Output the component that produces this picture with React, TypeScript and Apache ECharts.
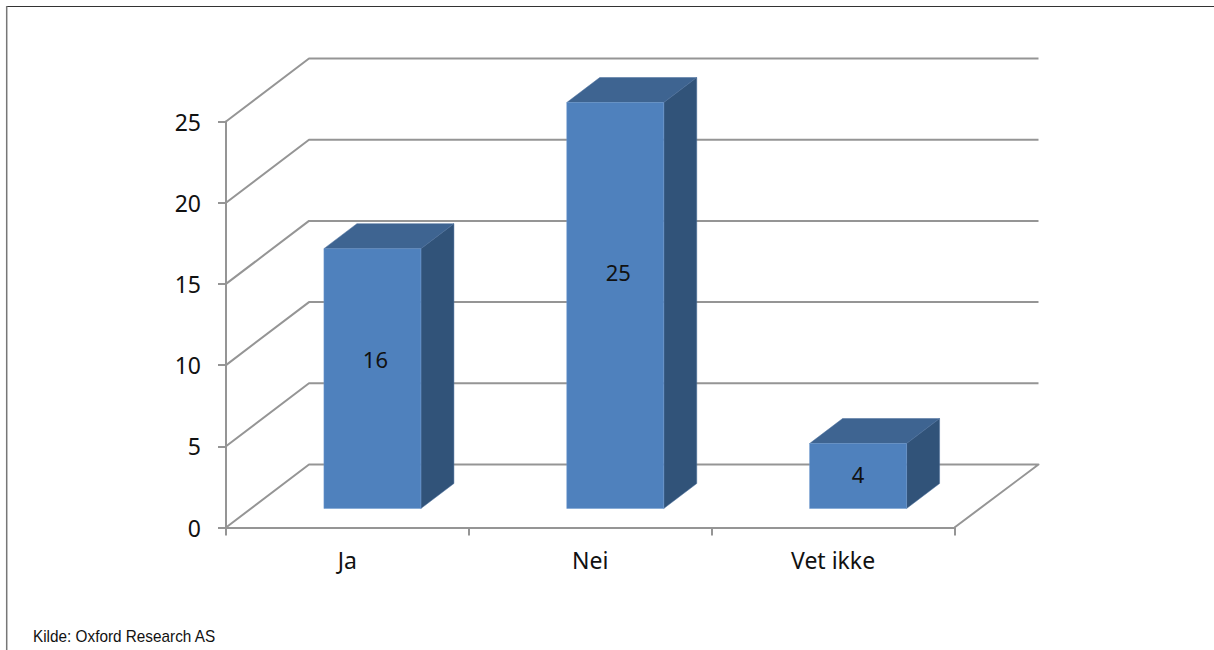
import React, { useEffect, useRef } from "react";
import * as echarts from "echarts";

const categories = ["Ja", "Nei", "Vet ikke"];
const values = [16, 25, 4];
const yTicks = [0, 5, 10, 15, 20, 25];
const sourceText = "Kilde: Oxford Research AS";

const DEPTH_X = 83;
const DEPTH_Y = -63;
const GRID_COLOR = "#959595";
const BAR_W = 97;
const BAR_SHIFT_X = 25;
const BAR_SHIFT_Y = -19;
const BAR_DX = 33;
const BAR_DY = -25;
const LABEL_FRACTION = [0.575, 0.582, 0.53];
const LABEL_SHIFT_X = [3, 3, 0];
const FONT = "'Noto Sans', sans-serif";

export default function App() {
  const ref = useRef<HTMLDivElement>(null);
  useEffect(() => {
    document.body.style.margin = "0";
    const chart = echarts.init(ref.current!, undefined, { renderer: "svg" });
    chart.setOption({
      animation: false,
      backgroundColor: "#ffffff",
      grid: { left: 226, right: 259.5, top: 121.5, bottom: 122.5 },
      xAxis: {
        type: "category",
        data: categories,
        boundaryGap: true,
        axisLine: { lineStyle: { color: GRID_COLOR, width: 2 } },
        axisTick: { show: true, length: 8, alignWithLabel: false, lineStyle: { color: GRID_COLOR, width: 2 } },
        axisLabel: { color: "#111", fontSize: 23, fontFamily: FONT, margin: 21, interval: 0 },
      },
      yAxis: {
        type: "value",
        min: 0,
        max: 25,
        interval: 5,
        splitLine: { show: false },
        axisLine: { show: true, lineStyle: { color: GRID_COLOR, width: 2 } },
        axisTick: { show: true, length: 8, lineStyle: { color: GRID_COLOR, width: 2 } },
        axisLabel: { color: "#111", fontSize: 23, fontFamily: FONT, margin: 25 },
      },
      series: [
        {
          type: "custom",
          silent: true,
          z: 1,
          data: yTicks,
          renderItem: (params: any, api: any) => {
            const v = api.value(0);
            const p = api.coord([0, v]);
            const sys = params.coordSys;
            const left = sys.x;
            const right = sys.x + sys.width;
            const pts = [[left, p[1]], [left + DEPTH_X, p[1] + DEPTH_Y], [right + DEPTH_X + 1, p[1] + DEPTH_Y]];
            if (v === 0) pts.push([right, p[1]]);
            return {
              type: "polyline",
              shape: { points: pts },
              style: { stroke: GRID_COLOR, lineWidth: 2, fill: "none", lineJoin: "round" },
            };
          },
          encode: { y: 0 },
        },
        {
          type: "custom",
          silent: true,
          z: 2,
          data: values.map((v, i) => [i, v]),
          encode: { x: 0, y: 1 },
          renderItem: (params: any, api: any) => {
            const i = api.value(0);
            const top = api.coord([i, api.value(1)]);
            const base = api.coord([i, 0]);
            const x0 = top[0] + BAR_SHIFT_X - BAR_W / 2;
            const x1 = x0 + BAR_W;
            const y0 = top[1] + BAR_SHIFT_Y;
            const y1 = base[1] + BAR_SHIFT_Y;
            return {
              type: "group",
              children: [
                {
                  type: "polygon",
                  shape: { points: [[x0, y0], [x0 + BAR_DX, y0 + BAR_DY], [x1 + BAR_DX, y0 + BAR_DY], [x1, y0]] },
                  style: { fill: "#3e6491", stroke: "#4a6f9c", lineWidth: 0.5 },
                },
                {
                  type: "polygon",
                  shape: { points: [[x1, y0], [x1 + BAR_DX, y0 + BAR_DY], [x1 + BAR_DX, y1 + BAR_DY], [x1, y1]] },
                  style: { fill: "#315379", stroke: "#4a6f9c", lineWidth: 0.5 },
                },
                {
                  type: "rect",
                  shape: { x: x0, y: y0, width: BAR_W, height: y1 - y0 },
                  style: { fill: "#4f81bd", stroke: "#6f9ad0", lineWidth: 0.5 },
                },
                {
                  type: "text",
                  style: {
                    x: x0 + BAR_W / 2 + LABEL_SHIFT_X[i],
                    y: y1 - (y1 - y0) * LABEL_FRACTION[i],
                    text: String(api.value(1)),
                    fill: "#111",
                    font: `22px ${FONT}`,
                    align: "center",
                    verticalAlign: "middle",
                  },
                },
              ],
            };
          },
        },
      ],
      graphic: [
        { type: "line", shape: { x1: 6, y1: 6.5, x2: 1214, y2: 6.5 }, style: { stroke: "#333", lineWidth: 1 } },
        { type: "line", shape: { x1: 6.7, y1: 6, x2: 6.7, y2: 650 }, style: { stroke: "#777", lineWidth: 1.5 } },
        {
          type: "text",
          x: 33,
          y: 636,
          scaleX: 0.958,
          style: { text: sourceText, fill: "#111", font: "16px 'Liberation Sans', sans-serif", verticalAlign: "middle" },
        },
      ],
    });
    return () => chart.dispose();
  }, []);
  return <div ref={ref} style={{ position: "absolute", left: 0, top: 0, width: 1214, height: 650 }} />;
}
